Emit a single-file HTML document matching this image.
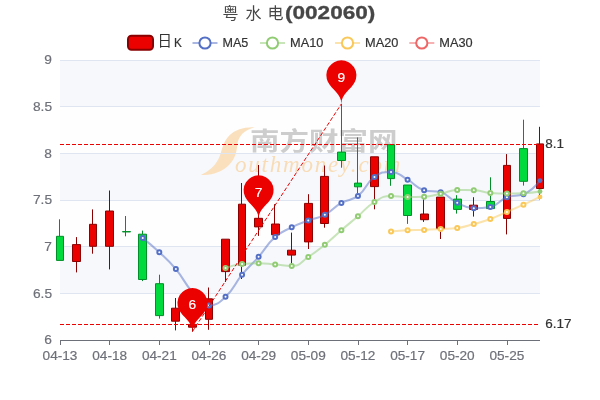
<!DOCTYPE html>
<html lang="zh"><head><meta charset="utf-8"><title>粤水电(002060)</title>
<style>html,body{margin:0;padding:0;background:#fff;}body{width:600px;height:400px;overflow:hidden;font-family:"Liberation Sans",sans-serif;}svg{display:block;}</style>
</head><body>
<svg width="600" height="400" viewBox="0 0 600 400" font-family="'Liberation Sans', sans-serif">
<rect width="600" height="400" fill="#fff"/>
<g opacity="0.999">
<rect x="60" y="60" width="480" height="46.67" fill="rgba(210,219,238,0.2)"/>
<rect x="60" y="106.67" width="480" height="46.67" fill="rgba(250,250,250,0.2)"/>
<rect x="60" y="153.33" width="480" height="46.67" fill="rgba(210,219,238,0.2)"/>
<rect x="60" y="200" width="480" height="46.67" fill="rgba(250,250,250,0.2)"/>
<rect x="60" y="246.67" width="480" height="46.67" fill="rgba(210,219,238,0.2)"/>
<rect x="60" y="293.33" width="480" height="46.67" fill="rgba(250,250,250,0.2)"/>
<g class="wm">
<path d="M254.8 127.3C245 126.6 235.5 129.3 229.5 135.3C224.5 140.3 222.6 146.5 220.8 153C218.5 161 213 169.5 201 174.8C210.5 176 222 172 229 165C235.5 158.5 236.6 151.5 237.4 144.5C238.3 136.5 244 130 254.8 127.3Z" fill="#fbe0be"/>
<text transform="translate(250 149.8) scale(1.18 1)" font-family="'Liberation Sans', 'Noto Sans CJK SC', sans-serif" font-size="25" font-weight="bold" fill="#cdcdcd">南方财富网</text>
<text x="235" y="172.4" font-family="'Liberation Serif', serif" font-style="italic" font-size="23" letter-spacing="1.8" fill="#f9dcb5">outhmoney.com</text>
</g>
<path d="M60 60.5H540" stroke="#E0E6F1" stroke-width="1"/>
<path d="M60 106.5H540" stroke="#E0E6F1" stroke-width="1"/>
<path d="M60 153.5H540" stroke="#E0E6F1" stroke-width="1"/>
<path d="M60 200.5H540" stroke="#E0E6F1" stroke-width="1"/>
<path d="M60 246.5H540" stroke="#E0E6F1" stroke-width="1"/>
<path d="M60 293.5H540" stroke="#E0E6F1" stroke-width="1"/>
<path d="M60 340.5H540" stroke="#E0E6F1" stroke-width="1"/>
<path d="M60 340.5H540" stroke="#6E7079" stroke-width="1"/>
<path d="M60.5 340V345M109.5 340V345M159.5 340V345M209.5 340V345M258.5 340V345M308.5 340V345M358.5 340V345M407.5 340V345M457.5 340V345M507.5 340V345" stroke="#6E7079" stroke-width="1"/>
<g class="axl">
<text transform="translate(42.57 359.6) scale(1.1172 1)" font-size="12.22" fill="#6E7079" stroke="#6E7079" stroke-width="0.18">04-13</text>
<text transform="translate(92.22 359.6) scale(1.1172 1)" font-size="12.22" fill="#6E7079" stroke="#6E7079" stroke-width="0.18">04-18</text>
<text transform="translate(141.88 359.6) scale(1.1172 1)" font-size="12.22" fill="#6E7079" stroke="#6E7079" stroke-width="0.18">04-21</text>
<text transform="translate(191.53 359.6) scale(1.1172 1)" font-size="12.22" fill="#6E7079" stroke="#6E7079" stroke-width="0.18">04-26</text>
<text transform="translate(241.19 359.6) scale(1.1172 1)" font-size="12.22" fill="#6E7079" stroke="#6E7079" stroke-width="0.18">04-29</text>
<text transform="translate(290.84 359.6) scale(1.1172 1)" font-size="12.22" fill="#6E7079" stroke="#6E7079" stroke-width="0.18">05-09</text>
<text transform="translate(340.5 359.6) scale(1.1172 1)" font-size="12.22" fill="#6E7079" stroke="#6E7079" stroke-width="0.18">05-12</text>
<text transform="translate(390.15 359.6) scale(1.1172 1)" font-size="12.22" fill="#6E7079" stroke="#6E7079" stroke-width="0.18">05-17</text>
<text transform="translate(439.81 359.6) scale(1.1172 1)" font-size="12.22" fill="#6E7079" stroke="#6E7079" stroke-width="0.18">05-20</text>
<text transform="translate(489.46 359.6) scale(1.1172 1)" font-size="12.22" fill="#6E7079" stroke="#6E7079" stroke-width="0.18">05-25</text>
<text transform="translate(44.37 64.4) scale(1.1249 1)" font-size="12.22" fill="#6E7079" stroke="#6E7079" stroke-width="0.18">9</text>
<text transform="translate(32.92 111.07) scale(1.1250 1)" font-size="12.22" fill="#6E7079" stroke="#6E7079" stroke-width="0.18">8.5</text>
<text transform="translate(44.37 157.73) scale(1.1249 1)" font-size="12.22" fill="#6E7079" stroke="#6E7079" stroke-width="0.18">8</text>
<text transform="translate(32.92 204.4) scale(1.1250 1)" font-size="12.22" fill="#6E7079" stroke="#6E7079" stroke-width="0.18">7.5</text>
<text transform="translate(44.37 251.07) scale(1.1249 1)" font-size="12.22" fill="#6E7079" stroke="#6E7079" stroke-width="0.18">7</text>
<text transform="translate(32.92 297.73) scale(1.1250 1)" font-size="12.22" fill="#6E7079" stroke="#6E7079" stroke-width="0.18">6.5</text>
<text transform="translate(44.37 344.4) scale(1.1249 1)" font-size="12.22" fill="#6E7079" stroke="#6E7079" stroke-width="0.18">6</text>
</g>
<g class="k" stroke-width="1">
<path d="M56.5 236.3H63.5V260.4H56.5ZM59.5 236.3V219.3" fill="#00da3c" stroke="#008F28"/>
<path d="M72.5 244.6H80.5V261.5H72.5ZM76.5 244.6V237.1M76.5 261.5V272.4" fill="#ec0000" stroke="#8A0000"/>
<path d="M89.5 224.3H96.5V246.3H89.5ZM92.5 224.3V209.4M92.5 246.3V253.7" fill="#ec0000" stroke="#8A0000"/>
<path d="M105.5 211H113.5V246.3H105.5ZM109.5 211V190.5M109.5 246.3V269.4" fill="#ec0000" stroke="#8A0000"/>
<path d="M122.5 231.6H130.5V231.9H122.5ZM125.5 231.6V216M125.5 231.9V236.3" fill="#00da3c" stroke="#008F28"/>
<path d="M138.5 234.2H146.5V279.5H138.5ZM142.5 234.2V230.6M142.5 279.5V281.1" fill="#00da3c" stroke="#008F28"/>
<path d="M155.5 283.7H163.5V315.6H155.5ZM159.5 283.7V274.7M159.5 315.6V318.6" fill="#00da3c" stroke="#008F28"/>
<path d="M171.5 308.2H179.5V321.2H171.5ZM175.5 308.2V298M175.5 321.2V330.4" fill="#ec0000" stroke="#8A0000"/>
<path d="M188.5 324.4H196.5V327.2H188.5ZM192.5 324.4V318M192.5 327.2V331.6" fill="#ec0000" stroke="#8A0000"/>
<path d="M205.5 298.8H212.5V319.3H205.5ZM208.5 298.8V287.5M208.5 319.3V329.8" fill="#ec0000" stroke="#8A0000"/>
<path d="M221.5 239.2H229.5V271.6H221.5ZM225.5 271.6V282" fill="#ec0000" stroke="#8A0000"/>
<path d="M238.5 204.2H245.5V265.2H238.5ZM241.5 204.2V183M241.5 265.2V279" fill="#ec0000" stroke="#8A0000"/>
<path d="M254.5 218.3H262.5V226.9H254.5ZM258.5 218.3V165M258.5 226.9V235.9" fill="#ec0000" stroke="#8A0000"/>
<path d="M271.5 224H279.5V234.8H271.5ZM274.5 224V204.2" fill="#ec0000" stroke="#8A0000"/>
<path d="M287.5 250.2H295.5V255.1H287.5ZM291.5 250.2V232.6M291.5 255.1V264.4" fill="#ec0000" stroke="#8A0000"/>
<path d="M304.5 203.4H312.5V241.9H304.5ZM308.5 203.4V194.2M308.5 241.9V249" fill="#ec0000" stroke="#8A0000"/>
<path d="M320.5 176.4H328.5V223.5H320.5ZM324.5 176.4V165.5M324.5 223.5V227.7" fill="#ec0000" stroke="#8A0000"/>
<path d="M337.5 152.1H345.5V160.5H337.5ZM341.5 152.1V103.9M341.5 160.5V167.7" fill="#00da3c" stroke="#008F28"/>
<path d="M354.5 183.1H361.5V186.8H354.5ZM357.5 183.1V137.4M357.5 186.8V193.4" fill="#00da3c" stroke="#008F28"/>
<path d="M370.5 156.8H378.5V186.6H370.5ZM374.5 186.6V209.3" fill="#ec0000" stroke="#8A0000"/>
<path d="M387.5 144.7H394.5V178.6H387.5ZM390.5 178.6V185.8" fill="#00da3c" stroke="#008F28"/>
<path d="M403.5 185H411.5V215.5H403.5ZM407.5 215.5V223.9" fill="#00da3c" stroke="#008F28"/>
<path d="M420.5 214H428.5V219.7H420.5ZM423.5 214V199.3M423.5 219.7V221.9" fill="#ec0000" stroke="#8A0000"/>
<path d="M436.5 197.1H444.5V228.6H436.5ZM440.5 228.6V239" fill="#ec0000" stroke="#8A0000"/>
<path d="M453.5 199.1H461.5V209.4H453.5ZM456.5 199.1V195.2M456.5 209.4V213.6" fill="#00da3c" stroke="#008F28"/>
<path d="M469.5 205.2H477.5V209.4H469.5ZM473.5 205.2V197.2M473.5 209.4V216.6" fill="#ec0000" stroke="#8A0000"/>
<path d="M486.5 201.5H494.5V208.6H486.5ZM490.5 201.5V177.3" fill="#00da3c" stroke="#008F28"/>
<path d="M503.5 165.4H510.5V218.4H503.5ZM506.5 165.4V154.1M506.5 218.4V234.4" fill="#ec0000" stroke="#8A0000"/>
<path d="M519.5 148.6H527.5V181.3H519.5ZM523.5 148.6V119.7M523.5 181.3V185.6" fill="#00da3c" stroke="#008F28"/>
<path d="M536.5 143.9H543.5V188.5H536.5ZM539.5 143.9V126.8M539.5 188.5V199.4" fill="#ec0000" stroke="#8A0000"/>
</g>
<path d="M142.76 238.1C142.76 238.1 151.38 244.78 159.31 252.2C167.93 260.28 168.31 260.04 175.86 269.1C184.86 279.89 183.01 281.56 192.41 291.9C199.56 299.76 200.13 305.5 208.97 305.5C216.68 305.5 218.83 303.02 225.52 296.8C235.39 287.62 233.28 285.32 242.07 274.7C249.83 265.32 250.57 265.95 258.62 256.8C267.12 247.15 265.7 245.54 275.17 237.1C282.25 230.79 283.15 231.6 291.72 227.3C299.7 223.3 299.91 223.66 308.28 220.5C316.46 217.41 317.18 218.87 324.83 214.8C333.73 210.07 332.58 207.92 341.38 202.9C349.13 198.47 351.04 201.31 357.93 195.9C367.59 188.31 364.67 184.02 374.48 176.9C381.22 172.02 382.99 171.9 391.03 171.9C399.54 171.9 399.6 175.28 407.59 179.7C416.15 184.43 415.2 187.73 424.14 190.2C431.75 192.3 433.08 190.2 440.69 192.3C449.63 194.77 448.48 198.59 457.24 202.8C465.03 206.54 465.32 208.2 473.79 208.2C481.87 208.2 482.67 208.2 490.34 206.9C499.22 205.4 498.08 200.58 506.9 197.2C514.63 194.23 516.17 197.2 523.45 194.2C532.72 190.38 540 180.6 540 180.6" fill="none" stroke="#5470c6" stroke-width="2" stroke-opacity="0.5" stroke-linejoin="bevel"/>
<g fill="#fff" stroke="#5470c6" stroke-width="2"><circle cx="142.76" cy="238.1" r="2"/><circle cx="159.31" cy="252.2" r="2"/><circle cx="175.86" cy="269.1" r="2"/><circle cx="192.41" cy="291.9" r="2"/><circle cx="208.97" cy="305.5" r="2"/><circle cx="225.52" cy="296.8" r="2"/><circle cx="242.07" cy="274.7" r="2"/><circle cx="258.62" cy="256.8" r="2"/><circle cx="275.17" cy="237.1" r="2"/><circle cx="291.72" cy="227.3" r="2"/><circle cx="308.28" cy="220.5" r="2"/><circle cx="324.83" cy="214.8" r="2"/><circle cx="341.38" cy="202.9" r="2"/><circle cx="357.93" cy="195.9" r="2"/><circle cx="374.48" cy="176.9" r="2"/><circle cx="391.03" cy="171.9" r="2"/><circle cx="407.59" cy="179.7" r="2"/><circle cx="424.14" cy="190.2" r="2"/><circle cx="440.69" cy="192.3" r="2"/><circle cx="457.24" cy="202.8" r="2"/><circle cx="473.79" cy="208.2" r="2"/><circle cx="490.34" cy="206.9" r="2"/><circle cx="506.9" cy="197.2" r="2"/><circle cx="523.45" cy="194.2" r="2"/></g>
<circle cx="540" cy="180.6" r="2.4" fill="#5470c6"/>
<path d="M225.52 268C225.52 268 233.67 264.62 242.07 263.9C250.23 263.2 250.35 263.2 258.62 263.2C266.91 263.2 266.9 263.8 275.17 264.5C283.45 265.2 283.97 266 291.72 266C300.52 266 300.36 262.07 308.28 257C316.91 251.47 316.84 251.26 324.83 244.8C333.4 237.86 333.02 237.4 341.38 230.2C349.57 223.15 349.7 223.31 357.93 216.3C366.26 209.21 365.31 207.62 374.48 202C381.86 197.47 382.51 196 391.03 196C399.06 196 399.3 197.1 407.59 197.1C415.85 197.1 415.93 197.1 424.14 196.8C432.48 196.49 432.44 195.37 440.69 193.7C448.99 192.02 448.87 190.1 457.24 190.1C465.42 190.1 465.58 190.1 473.79 190.2C482.13 190.3 482.01 192.49 490.34 193C498.56 193.5 498.62 193.5 506.9 193.5C515.17 193.5 515.19 193.5 523.45 193.2C531.75 192.9 540 191.5 540 191.5" fill="none" stroke="#91cc75" stroke-width="2" stroke-opacity="0.5" stroke-linejoin="bevel"/>
<g fill="#fff" stroke="#91cc75" stroke-width="2"><circle cx="225.52" cy="268" r="2"/><circle cx="242.07" cy="263.9" r="2"/><circle cx="258.62" cy="263.2" r="2"/><circle cx="275.17" cy="264.5" r="2"/><circle cx="291.72" cy="266" r="2"/><circle cx="308.28" cy="257" r="2"/><circle cx="324.83" cy="244.8" r="2"/><circle cx="341.38" cy="230.2" r="2"/><circle cx="357.93" cy="216.3" r="2"/><circle cx="374.48" cy="202" r="2"/><circle cx="391.03" cy="196" r="2"/><circle cx="407.59" cy="197.1" r="2"/><circle cx="424.14" cy="196.8" r="2"/><circle cx="440.69" cy="193.7" r="2"/><circle cx="457.24" cy="190.1" r="2"/><circle cx="473.79" cy="190.2" r="2"/><circle cx="490.34" cy="193" r="2"/><circle cx="506.9" cy="193.5" r="2"/><circle cx="523.45" cy="193.2" r="2"/></g>
<circle cx="540" cy="191.5" r="2.4" fill="#91cc75"/>
<path d="M391.03 231.6C391.03 231.6 399.3 230.7 407.59 230.3C415.85 229.9 415.87 230.2 424.14 229.9C432.42 229.6 432.42 229.55 440.69 229.1C448.97 228.65 449.08 229.1 457.24 228.1C465.63 227.07 465.57 226.26 473.79 224C482.13 221.71 482.24 221.96 490.34 219C498.79 215.91 498.63 215.47 506.9 211.9C515.18 208.32 515.23 208.42 523.45 204.7C531.78 200.92 540 196.9 540 196.9" fill="none" stroke="#fac858" stroke-width="2" stroke-opacity="0.5" stroke-linejoin="bevel"/>
<g fill="#fff" stroke="#fac858" stroke-width="2"><circle cx="391.03" cy="231.6" r="2"/><circle cx="407.59" cy="230.3" r="2"/><circle cx="424.14" cy="229.9" r="2"/><circle cx="440.69" cy="229.1" r="2"/><circle cx="457.24" cy="228.1" r="2"/><circle cx="473.79" cy="224" r="2"/><circle cx="490.34" cy="219" r="2"/><circle cx="506.9" cy="211.9" r="2"/><circle cx="523.45" cy="204.7" r="2"/></g>
<circle cx="540" cy="196.9" r="2.4" fill="#fac858"/>
<g stroke="#ec0000" stroke-width="1" stroke-dasharray="4 2" fill="none">
<path d="M192.41 331.6L341.38 103.9"/>
<path d="M60 324.5H540"/>
<path d="M60 144.5H540"/>
</g>
<text transform="translate(545.2 148.1) scale(1.1025 1)" font-size="12.22" fill="#333" stroke="#333" stroke-width="0.18">8.1</text>
<text transform="translate(545.2 328.1) scale(1.1025 1)" font-size="12.22" fill="#333" stroke="#333" stroke-width="0.18">6.17</text>
<path d="M327.83 81.76A15 15 0 1 1 354.93 81.76C351.07 89.89 341.38 93.4 341.38 103.9C341.38 93.4 331.68 89.89 327.83 81.76Z" fill="#ec0000"/>
<text transform="translate(337.56 81.9) scale(1.1249 1)" font-size="12.22" fill="#fff" stroke="#fff" stroke-width="0.18">9</text>
<path d="M178.86 309.46A15 15 0 1 1 205.97 309.46C202.11 317.59 192.41 321.1 192.41 331.6C192.41 321.1 182.72 317.59 178.86 309.46Z" fill="#ec0000"/>
<text transform="translate(188.6 308.8) scale(1.1249 1)" font-size="12.22" fill="#fff" stroke="#fff" stroke-width="0.18">6</text>
<path d="M245.07 196.76A15 15 0 1 1 272.17 196.76C268.32 204.89 258.62 208.4 258.62 218.9C258.62 208.4 248.93 204.89 245.07 196.76Z" fill="#ec0000"/>
<text transform="translate(254.8 196.9) scale(1.1249 1)" font-size="12.22" fill="#fff" stroke="#fff" stroke-width="0.18">7</text>
<g class="ttl">
<text x="222.5 238.5 245.5 261.5 267.5" y="19.2" font-family="'Liberation Sans', 'Noto Sans CJK SC', sans-serif" font-size="16" fill="#464646">粤 水 电</text>
</g>
<text transform="translate(285 19.15) scale(1.2743 1)" font-size="17.7" fill="#464646" stroke="#464646" stroke-width="0.3" font-weight="bold">(002060)</text>
<g>
<text x="157.5" y="46.2" font-family="'Liberation Sans', 'Noto Sans CJK SC', sans-serif" font-size="14.5" fill="#333">日</text>
</g>
<text transform="translate(174 47) scale(0.9668 1)" font-size="12.22" fill="#333" stroke="#333" stroke-width="0.18">K</text>
<rect x="128" y="35.8" width="25" height="14" rx="3.5" fill="#ec0000" stroke="#8A0000" stroke-width="2"/>
<path d="M192.5 43H217.5" stroke="#5470c6" stroke-width="2" stroke-opacity="0.5"/>
<circle cx="205" cy="43" r="5.6" fill="#fff" stroke="#5470c6" stroke-width="2"/>
<text transform="translate(222.5 47.2) scale(1.0284 1)" font-size="12.22" fill="#333" stroke="#333" stroke-width="0.18">MA5</text>
<path d="M260 43H285" stroke="#91cc75" stroke-width="2" stroke-opacity="0.5"/>
<circle cx="272.5" cy="43" r="5.6" fill="#fff" stroke="#91cc75" stroke-width="2"/>
<text transform="translate(290 47.2) scale(1.0454 1)" font-size="12.22" fill="#333" stroke="#333" stroke-width="0.18">MA10</text>
<path d="M335 43H360" stroke="#fac858" stroke-width="2" stroke-opacity="0.5"/>
<circle cx="347.5" cy="43" r="5.6" fill="#fff" stroke="#fac858" stroke-width="2"/>
<text transform="translate(365 47.2) scale(1.0454 1)" font-size="12.22" fill="#333" stroke="#333" stroke-width="0.18">MA20</text>
<path d="M409.3 43H434.3" stroke="#ee6666" stroke-width="2" stroke-opacity="0.5"/>
<circle cx="421.8" cy="43" r="5.6" fill="#fff" stroke="#ee6666" stroke-width="2"/>
<text transform="translate(439.3 47.2) scale(1.0454 1)" font-size="12.22" fill="#333" stroke="#333" stroke-width="0.18">MA30</text>
</g>
</svg>
</body></html>
